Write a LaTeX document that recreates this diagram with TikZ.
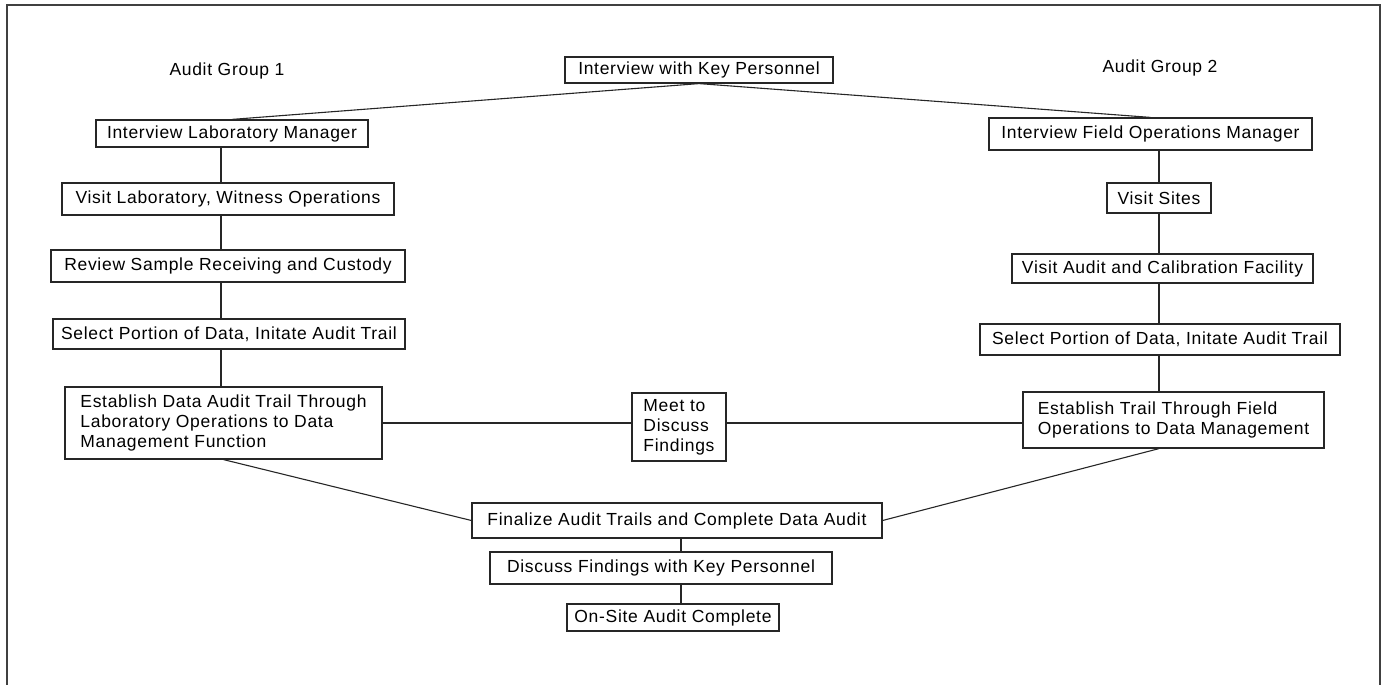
\documentclass[tikz,border=0pt]{standalone}
\usepackage{fontspec}
\setmainfont{Liberation Sans}[LetterSpace=4]
\begin{document}
\begin{tikzpicture}[x=1pt,y=-1pt,
  stepbox/.style={draw=black!85,line width=1.2pt,inner sep=0pt,
    minimum width=#1,font=\fontsize{17.5}{20}\selectfont,text=black},
  tallbox/.style={stepbox=#1,align=left},
  link/.style={draw=black!85,line width=1.1pt},
  grouplabel/.style={font=\fontsize{17.5}{20}\selectfont,text=black}]
\useasboundingbox (0,0) rectangle (1384,685);
% outer frame (open at the bottom)
\draw[line width=2pt,black!75] (7,685) -- (7,5) -- (1380,5) -- (1380,685);

% spines for the vertical connectors
\coordinate (spineL) at (221,0);
\coordinate (spineR) at (1159,0);
\coordinate (spineC) at (681,0);

\node[grouplabel] (g1) at (227,71) {Audit Group 1};
\node[grouplabel] (g2) at (1160,68) {Audit Group 2};

\node[stepbox=268pt,minimum height=26pt] (top) at (699,70) {Interview with Key Personnel};

% group 1
\node[stepbox=272pt,minimum height=27pt] (ilm) at (232,133.5) {Interview Laboratory Manager};
\node[stepbox=332pt,minimum height=32pt] (vl) at (228,199) {Visit Laboratory, Witness Operations};
\node[stepbox=354pt,minimum height=32pt] (rs) at (228,266) {Review Sample Receiving and Custody};
\node[stepbox=352pt,minimum height=30pt] (spl) at (229,334) {Select Portion of Data, Initate Audit Trail};
\node[tallbox=317pt,minimum height=72pt] (edl) at (223.5,423) {Establish Data Audit Trail Through\\Laboratory Operations to Data\\Management Function};

% meeting
\node[tallbox=94pt,minimum height=68pt] (meet) at (679,427) {Meet to\\Discuss\\Findings};

% group 2
\node[stepbox=323pt,minimum height=32pt] (ifom) at (1150.5,134) {Interview Field Operations Manager};
\node[stepbox=104pt,minimum height=30pt] (vs) at (1159,198) {Visit Sites};
\node[stepbox=301pt,minimum height=29pt] (vac) at (1162.5,268.5) {Visit Audit and Calibration Facility};
\node[stepbox=360pt,minimum height=31pt] (spr) at (1160,339.5) {Select Portion of Data, Initate Audit Trail};
\node[tallbox=301pt,minimum height=56pt] (etr) at (1173.5,420) {Establish Trail Through Field\\Operations to Data Management};

% wrap-up
\node[stepbox=410pt,minimum height=35pt] (fin) at (677,520.5) {Finalize Audit Trails and Complete Data Audit};
\node[stepbox=342pt,minimum height=32pt] (dfk) at (661,568) {Discuss Findings with Key Personnel};
\node[stepbox=212pt,minimum height=27pt] (osa) at (673,617.5) {On-Site Audit Complete};

% connectors
\draw[link] (top.south) -- (ilm.north);
\draw[link] (top.south) -- (ifom.north);

\draw[link] (ilm.south -| spineL) -- (vl.north -| spineL);
\draw[link] (vl.south -| spineL) -- (rs.north -| spineL);
\draw[link] (rs.south -| spineL) -- (spl.north -| spineL);
\draw[link] (spl.south -| spineL) -- (edl.north -| spineL);

\draw[link] (ifom.south -| spineR) -- (vs.north -| spineR);
\draw[link] (vs.south -| spineR) -- (vac.north -| spineR);
\draw[link] (vac.south -| spineR) -- (spr.north -| spineR);
\draw[link] (spr.south -| spineR) -- (etr.north -| spineR);

\draw[link] (edl.east) -- (edl.east -| meet.west);
\draw[link] (edl.east -| meet.east) -- (edl.east -| etr.west);

\draw[link] (edl.south) -- (fin.west);
\draw[link] (etr.south -| spineR) -- (fin.east);

\draw[link] (fin.south -| spineC) -- (dfk.north -| spineC);
\draw[link] (dfk.south -| spineC) -- (osa.north -| spineC);
\end{tikzpicture}
\end{document}
